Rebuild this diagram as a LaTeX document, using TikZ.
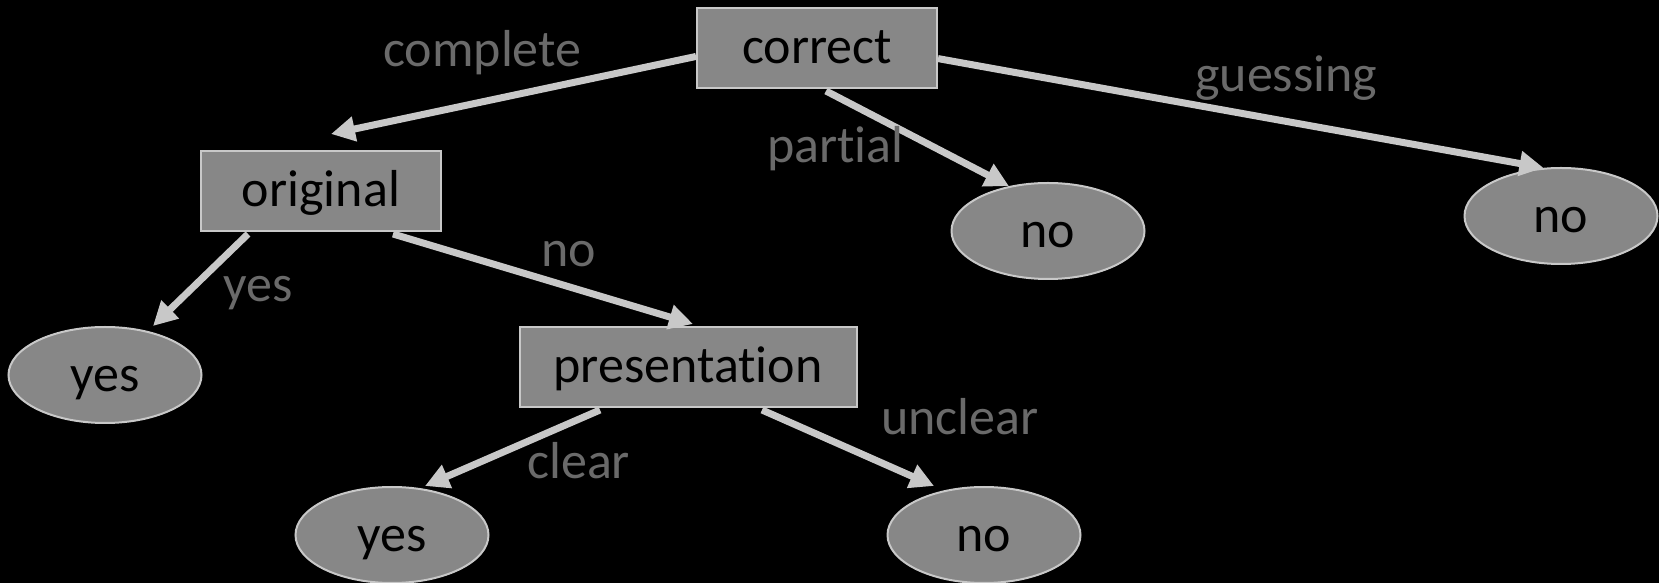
\documentclass[tikz,border=0pt]{standalone}
\usepackage{fontspec}
\setmainfont{Carlito}[Ligatures=NoCommon]
\usetikzlibrary{arrows.meta,shapes.geometric}
\definecolor{nodegray}{HTML}{878787}
\definecolor{edgegray}{HTML}{C8C8C8}
\definecolor{labelgray}{HTML}{6A6A6A}

\begin{document}
\begin{tikzpicture}[x=1pt, y=1pt,
    every node/.style={font=\fontsize{52}{62}\selectfont, inner sep=0pt},
    box/.style={rectangle, draw=edgegray, line width=2pt, fill=nodegray, minimum height=80pt,
        text height=38pt, text depth=6pt},
    leaf/.style={ellipse, draw=edgegray, line width=2pt, fill=nodegray, minimum width=193pt, minimum height=96pt,
        text height=40pt, text depth=6pt},
    arr/.style={draw=edgegray, line width=7pt, -{Triangle[length=24pt, width=24pt]}},
    lbl/.style={text=labelgray, anchor=base west}]
    \fill[black] (0,0) rectangle (1659,583);
    \useasboundingbox (0,0) rectangle (1659,583);
    % tests
    \node[box, minimum width=240pt] (correct) at (817,535) {correct};
    \node[box, minimum width=240pt] (original) at (321,392) {original};
    \node[box, minimum width=337pt] (presentation) at (688,216) {presentation};
    % leaves
    \node[leaf] (yesL) at (105,208) {yes};
    \node[leaf] (noM) at (1048,352) {no};
    \node[leaf] (noR) at (1561,367) {no};
    \node[leaf] (yesB) at (392,48) {yes};
    \node[leaf] (noB) at (984,48) {no};
    % branches
    \draw[arr] (correct.184) -- ([shift={(10,16)}]original.north);
    \draw[arr] ([shift={(9,-2)}]correct.south) -- (noM.131);
    \draw[arr] (correct.355) -- (noR.110);
    \draw[arr] ([shift={(-73,-2)}]original.south) -- ([xshift=48]yesL.north);
    \draw[arr] ([shift={(72,-2)}]original.south) -- ([shift={(5,2)}]presentation.north);
    \draw[arr] ([shift={(-88,-2)}]presentation.south) -- ([xshift=33]yesB.north);
    \draw[arr] ([shift={(74,-2)}]presentation.south) -- ([xshift=-50]noB.north);
    % branch labels
    \node[lbl] (lcomplete) at (383,516) {complete};
    \node[lbl] (lpartial) at (767,420) {partial};
    \node[lbl] (lguessing) at (1195,491) {guessing};
    \node[lbl] (lyes) at (223,281) {yes};
    \node[lbl] (lno) at (541,316) {no};
    \node[lbl] (lclear) at (527,104) {clear};
    \node[lbl] (lunclear) at (881,148) {unclear};
\end{tikzpicture}
\end{document}
